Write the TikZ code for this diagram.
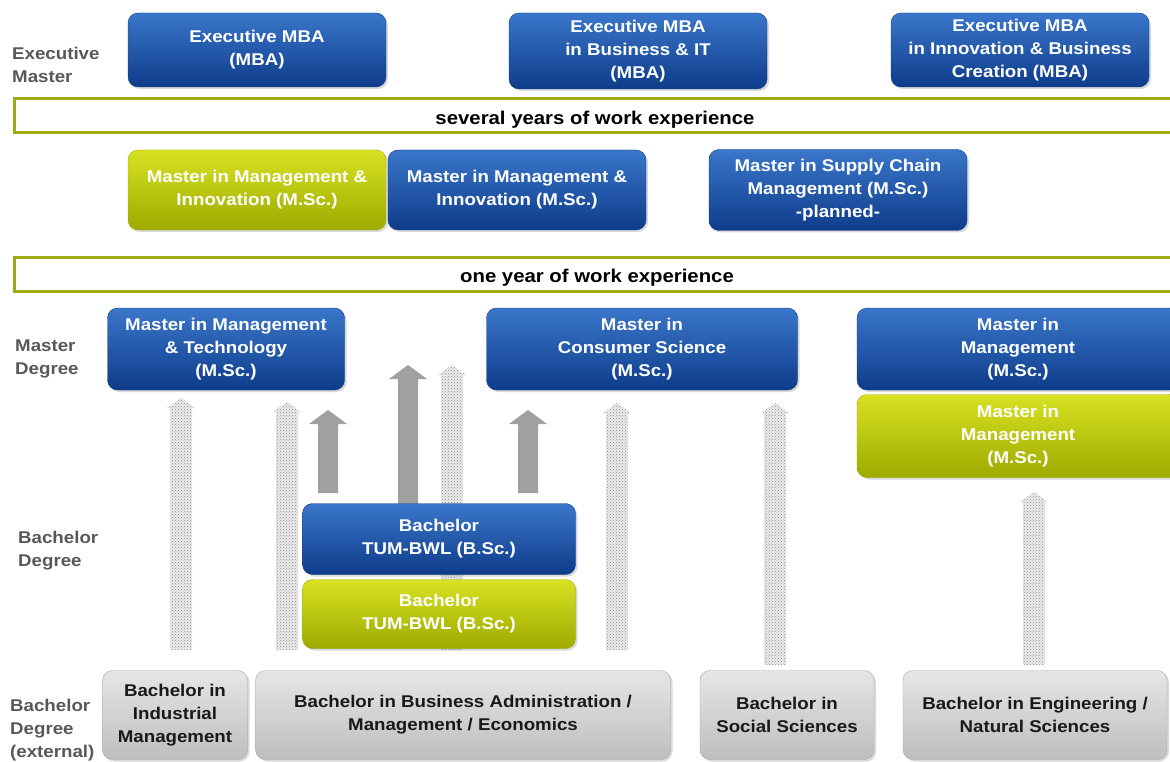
\documentclass[tikz,border=0pt]{standalone}
\usepackage{fontspec}
\setmainfont{Liberation Sans}[FakeStretch=1.1]
\usetikzlibrary{calc,patterns,shadows}

\definecolor{bluetop}{RGB}{58,118,202}
\definecolor{bluebot}{RGB}{14,60,138}
\definecolor{limetop}{RGB}{216,226,34}
\definecolor{limebot}{RGB}{158,170,0}
\definecolor{greytop}{RGB}{230,230,230}
\definecolor{greybot}{RGB}{190,190,190}
\definecolor{barline}{RGB}{158,172,20}
\definecolor{labelgrey}{RGB}{88,88,88}
\definecolor{arrgrey}{RGB}{160,160,160}

% block arrow: style, foot, tip, half shaft, half head, head length
\newcommand\blockarrow[6]{%
  \path[#1] let \p1=(#2), \p2=(#3) in
    (\x1-#4,\y1) -- (\x1-#4,\y2-#6) -- (\x1-#5,\y2-#6) -- (\x2,\y2)
    -- (\x1+#5,\y2-#6) -- (\x1+#4,\y2-#6) -- (\x1+#4,\y1) -- cycle;}

\begin{document}
\begin{tikzpicture}[x=1pt, y=-1pt,
  font=\fontsize{17}{23}\selectfont\bfseries,
  prog/.style={rounded corners=10pt, align=center, inner sep=2pt,
               drop shadow={opacity=.3, shadow xshift=2pt, shadow yshift=-2pt}},
  bluebox/.style={prog, text=white, draw=bluebot,
                  top color=bluetop, bottom color=bluebot},
  limebox/.style={prog, text=white, draw=limebot,
                  top color=limetop, bottom color=limebot},
  greybox/.style={prog, text=black!90, draw=black!35,
                  top color=greytop, bottom color=greybot},
  bar/.style={draw=barline, line width=3pt, fill=white, minimum height=34,
              text height=17, text depth=0,
              font=\fontsize{18.5}{23}\selectfont\bfseries},
  lab/.style={anchor=west, align=left, text=labelgrey, inner sep=0pt},
  dotarr/.style={preaction={fill=black!8}, pattern=crosshatch dots,
                 pattern color=black!45},
  solarr/.style={fill=arrgrey}
]
  \useasboundingbox (0,0) rectangle (1170,762);

  \node[lab] (lexec) at (12,65)  {Executive\\Master};
  \node[lab] (lmast) at (15,359) {Master\\Degree};
  \node[lab] (lbach) at (18,551) {Bachelor\\Degree};
  \node[lab] (lext)  at (10,730) {Bachelor\\Degree\\(external)};

  \node[bar, minimum width=1162] (years) at (595,116)
        {several years of work experience};
  \node[bar, minimum width=1166] (oneyear) at (597,274)
        {one year of work experience};

  \coordinate (p1s) at (181,650);  \coordinate (p1e) at (181,398);
  \coordinate (p2s) at (287,650);  \coordinate (p2e) at (287,402);
  \coordinate (p3s) at (452,650);  \coordinate (p3e) at (452,365);
  \coordinate (p4s) at (617,650);  \coordinate (p4e) at (617,403);
  \coordinate (p5s) at (775,665);  \coordinate (p5e) at (775,403);
  \coordinate (p6s) at (1034,665); \coordinate (p6e) at (1034,492);
  \coordinate (s1s) at (328,493);  \coordinate (s1e) at (328,410);
  \coordinate (s2s) at (408,504);  \coordinate (s2e) at (408,365);
  \coordinate (s3s) at (528,493);  \coordinate (s3e) at (528,410);

  \foreach \a in {p1,p2,p3,p4,p5,p6}
    \blockarrow{dotarr}{\a s}{\a e}{11pt}{14pt}{10pt};
  \foreach \a in {s1,s2,s3}
    \blockarrow{solarr}{\a s}{\a e}{10pt}{19pt}{14pt};

  \node[bluebox, minimum width=258, minimum height=74] (mba) at (257,50)
        {Executive MBA\\(MBA)};
  \node[bluebox, minimum width=258, minimum height=76] (mbait) at (638,51)
        {Executive MBA\\in Business \& IT\\(MBA)};
  \node[bluebox, minimum width=258, minimum height=74] (mbaibc) at (1020,50)
        {Executive MBA\\in Innovation \& Business\\Creation (MBA)};

  \node[limebox, minimum width=258, minimum height=80] (mmilime) at (257,190)
        {Master in Management \&\\Innovation (M.Sc.)};
  \node[bluebox, minimum width=258, minimum height=80] (mmiblue) at (517,190)
        {Master in Management \&\\Innovation (M.Sc.)};
  \node[bluebox, minimum width=258, minimum height=81] (mscm) at (838,190)
        {Master in Supply Chain\\Management (M.Sc.)\\-planned-};

  \node[bluebox, minimum width=237, minimum height=82] (mmt) at (226,349)
        {Master in Management\\\& Technology\\(M.Sc.)};
  \node[bluebox, minimum width=311, minimum height=82] (mcs) at (642,349)
        {Master in\\Consumer Science\\(M.Sc.)};
  \node[bluebox, minimum width=322, minimum height=82] (mmblue) at (1018,349)
        {Master in\\Management\\(M.Sc.)};
  \node[limebox, minimum width=322, minimum height=83] (mmlime) at (1018,436)
        {Master in\\Management\\(M.Sc.)};

  \node[bluebox, minimum width=273, minimum height=71] (tumblue) at (439,539)
        {Bachelor\\TUM-BWL (B.Sc.)};
  \node[limebox, minimum width=273, minimum height=69] (tumlime) at (439,614)
        {Bachelor\\TUM-BWL (B.Sc.)};

  \node[greybox, minimum width=145, minimum height=89] (bim) at (175,715)
        {Bachelor in\\Industrial\\Management};
  \node[greybox, minimum width=415, minimum height=89] (bba) at (463,715)
        {Bachelor in Business Administration /\\Management / Economics};
  \node[greybox, minimum width=174, minimum height=89] (bss) at (787,715)
        {Bachelor in\\Social Sciences};
  \node[greybox, minimum width=264, minimum height=89] (ben) at (1035,715)
        {Bachelor in Engineering /\\Natural Sciences};
\end{tikzpicture}
\end{document}
